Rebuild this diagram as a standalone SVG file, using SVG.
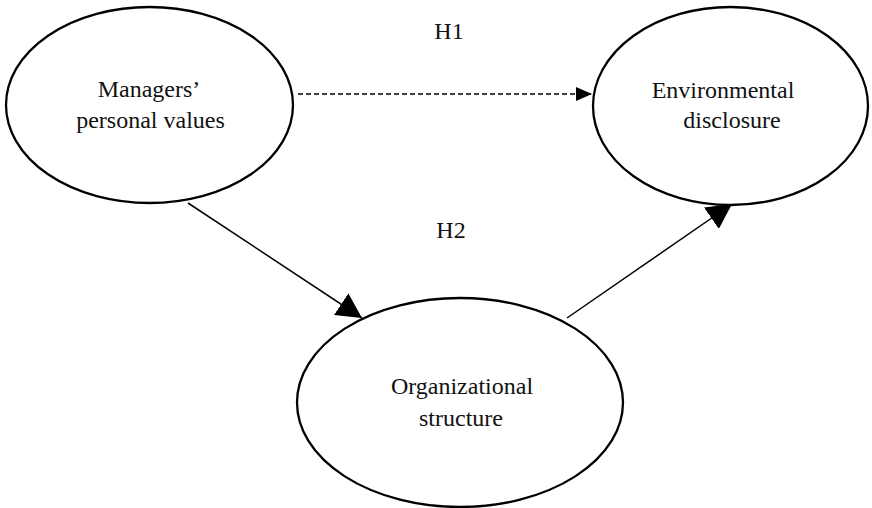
<svg xmlns="http://www.w3.org/2000/svg" width="872" height="508" viewBox="0 0 872 508">
<style>
.node ellipse{fill:#fff;stroke:#000;stroke-width:2.3}
text{font-family:"Liberation Serif","Times New Roman",serif;font-size:24px;fill:#111;text-anchor:middle}
.edge{stroke:#000;stroke-width:1.5;fill:none}
.dash{stroke-dasharray:5 3;stroke-width:1.4}
</style>
<defs>
<marker id="big" markerUnits="userSpaceOnUse" markerWidth="25" markerHeight="26" refX="25" refY="13" orient="auto">
<path d="M0,0 L25,13 L0,26 z" fill="#000"/>
</marker>
<marker id="small" markerUnits="userSpaceOnUse" markerWidth="16" markerHeight="14" refX="16" refY="7" orient="auto">
<path d="M0,0 L16,7 L0,14 z" fill="#000"/>
</marker>
</defs>
<rect width="872" height="508" fill="#fff"/>
<g id="connectors">
<line class="edge dash" x1="298" y1="94" x2="592" y2="94" marker-end="url(#small)"/>
<line class="edge" x1="188" y1="203" x2="362" y2="318" marker-end="url(#big)"/>
<line class="edge" x1="567" y1="318" x2="732" y2="204" marker-end="url(#big)"/>
<text x="449" y="39">H1</text>
<text x="451" y="238">H2</text>
</g>
<g id="managers" class="node">
<ellipse cx="149.5" cy="105" rx="143.5" ry="98"/>
<text x="149" y="97">Managers’</text>
<text x="150.5" y="128">personal values</text>
</g>
<g id="environmental" class="node">
<ellipse cx="730.5" cy="106" rx="137.5" ry="99"/>
<text x="723" y="98">Environmental</text>
<text x="732" y="128">disclosure</text>
</g>
<g id="organizational" class="node">
<ellipse cx="460" cy="402.5" rx="163" ry="104.5"/>
<text x="462" y="394">Organizational</text>
<text x="461" y="426">structure</text>
</g>
</svg>
